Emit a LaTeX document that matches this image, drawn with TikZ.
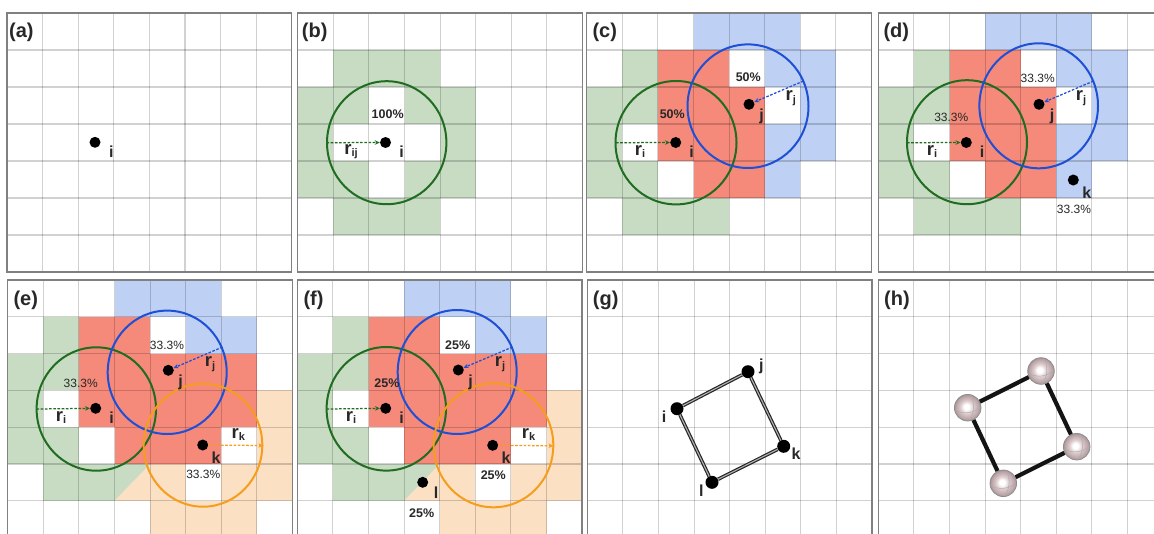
\documentclass[tikz,border=0pt]{standalone}
\usepackage{fontspec}
\setmainfont{Liberation Sans}
\usetikzlibrary{arrows.meta}
\definecolor{fgreen}{RGB}{200,220,196}
\definecolor{fblue}{RGB}{190,208,243}
\definecolor{fred}{RGB}{245,137,122}
\definecolor{forange}{RGB}{252,224,196}
\definecolor{cgreen}{RGB}{32,108,32}
\definecolor{cblue}{RGB}{30,80,215}
\definecolor{corange}{RGB}{245,158,30}
\definecolor{ink}{RGB}{40,40,40}
\definecolor{atoma}{RGB}{255,255,255}
\definecolor{atomb}{RGB}{222,204,206}
\definecolor{atomc}{RGB}{184,162,166}
\pgfdeclareradialshading{atomshade}{\pgfpoint{-3bp}{2bp}}{color(0bp)=(atoma); color(5bp)=(atoma); color(12bp)=(atomb); color(22bp)=(atomc); color(28bp)=(atomc!80!black)}
\newcommand{\cellw}{35.6}
% \panelgrid{x0}{y0}{row height}
\newcommand{\panelgrid}[3]{%
  \foreach \k in {1,...,7} \draw[gridline] ({#1+\k*\cellw},#2) -- ({#1+\k*\cellw},{#2+7*#3});
  \foreach \k in {1,...,6} \draw[gridline] (#1,{#2+\k*#3}) -- ({#1+8*\cellw},{#2+\k*#3});
  \draw[frameline] (#1,#2) rectangle ({#1+8*\cellw},{#2+7*#3});
}
% \cellset{colour}{x0}{y0}{row height}{c/r list}
\newcommand{\cellset}[5]{%
  \foreach \c/\r in {#5} \fill[#1] ({#2+\c*\cellw},{#3+\r*#4}) rectangle ++(\cellw,#4);
}
\newcommand{\basecells}[3]{%
  \cellset{fblue}{#1}{#2}{#3}{3/0,4/0,5/0,5/1,6/1}
  \cellset{fgreen}{#1}{#2}{#3}{1/1,0/2,1/2,0/3,0/4,1/4,1/5,2/5}
  \cellset{fred}{#1}{#2}{#3}{2/1,3/1,2/2,3/2,4/2,2/3,3/3,4/3,3/4,4/4}
}
\newcommand{\threeone}[3]{% blue + green part of panels c,d
  \basecells{#1}{#2}{#3}
  \cellset{fblue}{#1}{#2}{#3}{6/2,5/3,6/3,5/4}
  \cellset{fgreen}{#1}{#2}{#3}{3/5}
}
\newcommand{\fourcells}[3]{% panels e,f
  \basecells{#1}{#2}{#3}
  \cellset{fred}{#1}{#2}{#3}{5/2,6/2,5/3,6/3,5/4}
  \cellset{forange}{#1}{#2}{#3}{7/3,7/4,4/5,6/5,7/5,4/6,5/6,6/6}
  \fill[fgreen] ({#1+3*\cellw},{#2+5*#3}) rectangle ++(\cellw,#3);
  \fill[forange] ({#1+3*\cellw},{#2+6*#3}) -- ({#1+4*\cellw},{#2+5*#3}) -- ({#1+4*\cellw},{#2+6*#3}) -- cycle;
}
\newcommand{\rsub}[2]{\textbf{r}\raisebox{-2.5pt}{\fontsize{#2}{#2}\selectfont\bfseries #1}}
\tikzset{
  gridline/.style={black,opacity=.18,line width=1.15pt},
  frameline/.style={draw=black!50,line width=1.3pt},
  dot/.style={circle,fill=black,inner sep=0pt,minimum size=11pt},
  bigdot/.style={circle,fill=black,inner sep=0pt,minimum size=13pt},
  ringg/.style={draw=cgreen,line width=2pt},
  ringb/.style={draw=cblue,line width=2pt},
  ringo/.style={draw=corange,line width=2pt},
  radg/.style={draw=cgreen,dash pattern=on 2.6pt off 1.6pt,line width=1.25pt,-{Stealth[length=5pt,width=4.5pt]}},
  radb/.style={draw=cblue,dash pattern=on 2.6pt off 1.6pt,line width=1.25pt,-{Stealth[length=5pt,width=4.5pt]}},
  rado/.style={draw=corange,dash pattern=on 2.6pt off 1.6pt,line width=1.25pt,-{Stealth[length=5pt,width=4.5pt]}},
  tag/.style={font=\fontsize{20}{20}\selectfont\bfseries,text=ink,anchor=west,inner sep=0pt},
  lbl/.style={font=\fontsize{16}{16}\selectfont\bfseries,text=ink,inner sep=0pt},
  rlbl/.style={font=\fontsize{18.5}{18.5}\selectfont,text=ink,inner sep=0pt},
  pct/.style={font=\fontsize{12}{12}\selectfont,text=ink,inner sep=0pt},
  pctb/.style={font=\fontsize{12.5}{12.5}\selectfont\bfseries,text=ink,inner sep=0pt},
  bond/.style={draw=black!85,double=white!70!black,line width=1.2pt,double distance=1.1pt},
  rod/.style={draw=black!92,line width=4.2pt},
  atom/.style={circle,inner sep=0pt,minimum size=26.6pt,shading=atomshade,draw=black!45,line width=.7pt,
    path picture={\begin{scope}[shift={(path picture bounding box.center)}]
      \draw[black!32,line width=.5pt] (-13,2) .. controls (-5,7) and (6,6) .. (13,-1);
      \draw[black!32,line width=.5pt] (3,-13) .. controls (7,-5) and (7,6) .. (1,13);
    \end{scope}}},
}
\begin{document}
\begin{tikzpicture}[x=1pt,y=-1pt]
\path[use as bounding box,clip] (0,0) rectangle (1154,533);
\fill[white] (0,0) rectangle (1154,533);

% ---------- (a)
\panelgrid{7}{13}{37}
\node[tag] (ta) at (9,32) {(a)};
\node[dot] (ai) at (95,142.3) {};
\node[lbl] (ail) at (111.3,152) {i};

% ---------- (b)
\cellset{fgreen}{297.7}{13}{37}{1/1,2/1,3/1,0/2,1/2,3/2,4/2,0/3,4/3,0/4,1/4,3/4,4/4,1/5,2/5,3/5}
\panelgrid{297.7}{13}{37}
\node[tag] (tb) at (301.7,32) {(b)};
\node[dot] (bi) at (385.5,142.5) {};
\draw[ringg] (386.7,142.7) ellipse [x radius=59.7,y radius=61.5];
\coordinate (be) at (326.5,142.7);
\draw[radg] (be) -- (bi);
\node[pctb] (bp) at (387.7,114.5) {100\%};
\node[lbl] (bil) at (401.5,152) {i};
\node[rlbl] (br) at (351,151.5) {\rsub{ij}{11}};

% ---------- (c)
\threeone{586.7}{13}{37}
\panelgrid{586.7}{13}{37}
\node[tag] (tc) at (592.3,32) {(c)};
\node[dot] (ci) at (675.7,142.5) {};
\node[dot] (cj) at (749,104.3) {};
\draw[ringg] (676,142.7) ellipse [x radius=60.5,y radius=61.7];
\draw[ringb] (748,106.2) ellipse [x radius=60.5,y radius=61.8];
\coordinate (cge) at (616,142.7);
\coordinate (cbe) at (803.5,81);
\draw[radg] (cge) -- (ci);
\draw[radb] (cbe) -- (cj);
\node[pctb] (cp1) at (672.3,114.5) {50\%};
\node[pctb] (cp2) at (748.3,77) {50\%};
\node[lbl] (cil) at (691.5,152) {i};
\node[lbl] (cjl) at (761.7,116) {j};
\node[rlbl] (cr1) at (640,151.5) {\rsub{i}{11}};
\node[rlbl] (cr2) at (790.7,98) {\rsub{j}{11}};

% ---------- (d)
\threeone{878.3}{13}{37}
\panelgrid{878.3}{13}{37}
\node[tag] (td) at (883.3,32) {(d)};
\node[dot] (di) at (966.3,142.5) {};
\node[dot] (dj) at (1039,104.3) {};
\node[dot] (dk) at (1073.3,180) {};
\draw[ringg] (967,142.2) ellipse [x radius=60,y radius=62];
\draw[ringb] (1038.7,105.8) ellipse [x radius=59.3,y radius=62.5];
\coordinate (dge) at (907,142.7);
\coordinate (dbe) at (1093.5,81);
\draw[radg] (dge) -- (di);
\draw[radb] (dbe) -- (dj);
\node[pct] (dp1) at (951.3,117) {33.3\%};
\node[pct] (dp2) at (1037.7,78) {33.3\%};
\node[pct] (dp3) at (1074,209) {33.3\%};
\node[lbl] (dil) at (982,152) {i};
\node[lbl] (djl) at (1052,116) {j};
\node[lbl] (dkl) at (1086.7,192.7) {k};
\node[rlbl] (dr1) at (932,151.5) {\rsub{i}{11}};
\node[rlbl] (dr2) at (1081,98) {\rsub{j}{11}};

% ---------- (e)
\fourcells{7.7}{280}{36.8}
\panelgrid{7.7}{280}{36.8}
\node[tag] (te) at (13.3,300.7) {(e)};
\node[dot] (ei) at (95.7,408.3) {};
\node[dot] (ej) at (168.3,370.3) {};
\node[dot] (ek) at (202.7,445) {};
\draw[ringg] (96.3,409) ellipse [x radius=59.7,y radius=61.7];
\draw[ringb] (167.2,372.3) ellipse [x radius=59.5,y radius=61.7];
\draw[ringo] (203,445.2) ellipse [x radius=59.3,y radius=61.5];
\coordinate (ege) at (36.5,409);
\coordinate (ebe) at (222.5,347);
\coordinate (eoe) at (263.5,445.5);
\draw[radg] (ege) -- (ei);
\draw[radb] (ebe) -- (ej);
\draw[rado] (ek) -- (eoe);
\node[pct] (ep1) at (80.7,383.3) {33.3\%};
\node[pct] (ep2) at (167,345.3) {33.3\%};
\node[pct] (ep3) at (203.3,474.7) {33.3\%};
\node[lbl] (eil) at (111.5,418) {i};
\node[lbl] (ejl) at (180.5,382) {j};
\node[lbl] (ekl) at (216,458) {k};
\node[rlbl] (er1) at (61,417.5) {\rsub{i}{11}};
\node[rlbl] (er2) at (210,364) {\rsub{j}{11}};
\node[rlbl] (er3) at (238.3,434.3) {\rsub{k}{11}};

% ---------- (f)
\fourcells{297.3}{280}{36.8}
\panelgrid{297.3}{280}{36.8}
\node[tag] (tf) at (303.3,300.7) {(f)};
\node[dot] (fi) at (385.7,408.3) {};
\node[dot] (fj) at (458.3,370) {};
\node[dot] (fk) at (492.7,445.3) {};
\node[dot] (fl) at (422.7,482.3) {};
\draw[ringg] (386.3,408.8) ellipse [x radius=59.7,y radius=61.8];
\draw[ringb] (457.2,372) ellipse [x radius=59.5,y radius=62];
\draw[ringo] (493.5,445.3) ellipse [x radius=59.8,y radius=62];
\coordinate (fge) at (326.5,409);
\coordinate (fbe) at (512.5,347);
\coordinate (foe) at (553.5,445.8);
\draw[radg] (fge) -- (fi);
\draw[radb] (fbe) -- (fj);
\draw[rado] (fk) -- (foe);
\node[pctb] (fp1) at (387,383.3) {25\%};
\node[pctb] (fp2) at (457.7,345) {25\%};
\node[pctb] (fp3) at (493.3,475) {25\%};
\node[pctb] (fp4) at (421.7,512.7) {25\%};
\node[lbl] (fil) at (401.5,418) {i};
\node[lbl] (fjl) at (470.5,382) {j};
\node[lbl] (fkl) at (506,458) {k};
\node[lbl] (fll) at (436,493) {l};
\node[rlbl] (fr1) at (351,417.5) {\rsub{i}{11}};
\node[rlbl] (fr2) at (500,364) {\rsub{j}{11}};
\node[rlbl] (fr3) at (528.5,434.3) {\rsub{k}{11}};

% ---------- (g)
\panelgrid{587.3}{280}{36.8}
\node[tag] (tg) at (592.7,300.7) {(g)};
\node[bigdot] (gi) at (677,408.7) {};
\node[bigdot] (gj) at (748,371.7) {};
\node[bigdot] (gk) at (783.7,446.3) {};
\node[bigdot] (gl) at (712,482.3) {};
\draw[bond] (gi) -- (gj);
\draw[bond] (gj) -- (gk);
\draw[bond] (gk) -- (gl);
\draw[bond] (gl) -- (gi);
\node[lbl] (gil) at (664,417) {i};
\node[lbl] (gjl) at (761.3,366) {j};
\node[lbl] (gkl) at (796,454) {k};
\node[lbl] (gll) at (701.3,490.7) {l};

% ---------- (h)
\panelgrid{878.3}{280}{36.8}
\node[tag] (th) at (884,300.7) {(h)};
\node[atom] (h1) at (967.7,407.7) {};
\node[atom] (h2) at (1041,371) {};
\node[atom] (h3) at (1076.7,446.7) {};
\node[atom] (h4) at (1003.3,483.3) {};
\draw[rod] (h1) -- (h2);
\draw[rod] (h2) -- (h3);
\draw[rod] (h3) -- (h4);
\draw[rod] (h4) -- (h1);
\end{tikzpicture}
\end{document}
